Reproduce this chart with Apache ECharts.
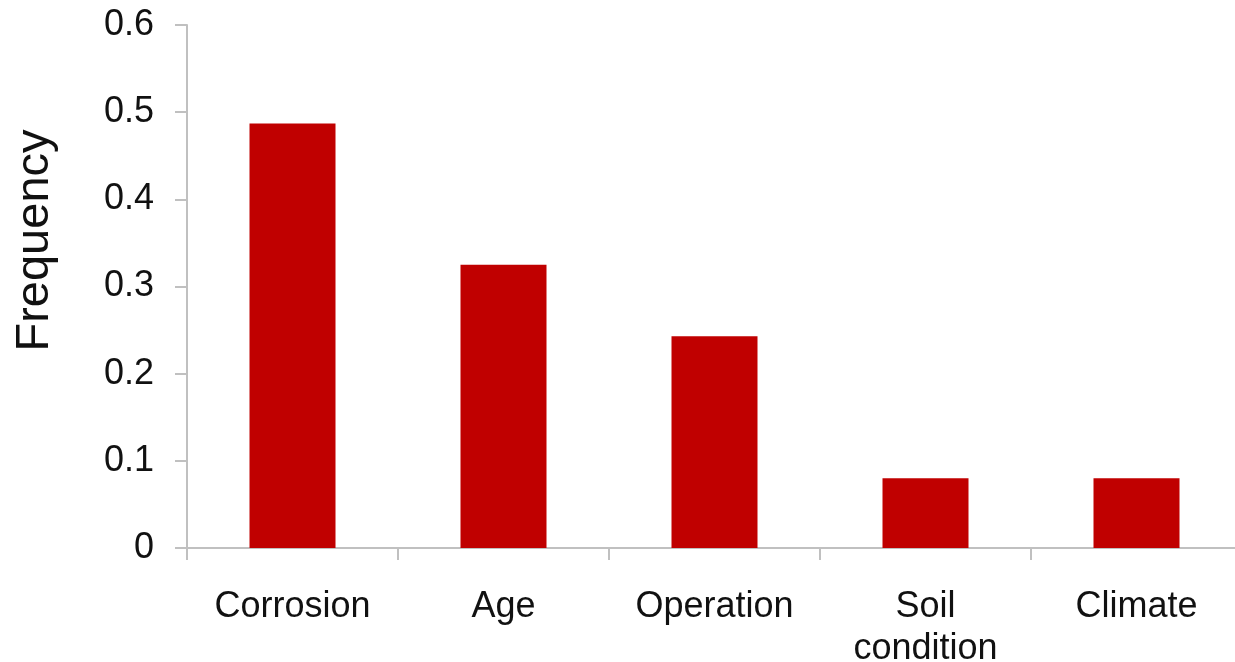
<!DOCTYPE html>
<html>
<head>
<meta charset="utf-8">
<script src="https://cdn.jsdelivr.net/npm/echarts@6/dist/echarts.min.js"></script>
<style>
  html, body { margin: 0; padding: 0; background: #fff; }
  #chart { width: 1235px; height: 662px; }
</style>
</head>
<body>
<div id="chart"></div>
<script>
// categories and values
const categories = ['Corrosion', 'Age', 'Operation', 'Soil\ncondition', 'Climate'];
const frequency = [0.487, 0.325, 0.243, 0.080, 0.080];

const axisGrey = '#c0c0c0';
const font = 'Liberation Sans, Arial, sans-serif';

const chart = echarts.init(document.getElementById('chart'), null, { renderer: 'canvas' });

const option = {
  animation: false,
  backgroundColor: '#fff',
  grid: {
    left: 187,
    right: -7,
    top: 25,
    bottom: 114,
    containLabel: false,
    outerBoundsMode: 'none'
  },
  xAxis: {
    type: 'category',
    data: categories,
    axisLine: { lineStyle: { color: axisGrey, width: 2 } },
    axisTick: { show: true, length: 12, lineStyle: { color: axisGrey, width: 2 } },
    axisLabel: {
      margin: 38,
      color: '#111',
      fontFamily: font,
      fontSize: 36,
      lineHeight: 42
    }
  },
  yAxis: {
    type: 'value',
    min: 0,
    max: 0.6,
    interval: 0.1,
    name: 'Frequency',
    nameLocation: 'middle',
    nameRotate: 90,
    nameGap: 128,
    nameTextStyle: {
      color: '#111',
      fontFamily: font,
      fontSize: 47,
      padding: [0, 0, 0, 92]
    },
    axisLine: { show: true, lineStyle: { color: axisGrey, width: 2 } },
    axisTick: { show: true, length: 12, lineStyle: { color: axisGrey, width: 2 } },
    splitLine: { show: false },
    axisLabel: {
      margin: 33,
      color: '#111',
      fontFamily: font,
      fontSize: 36,
      formatter: function (v) { return v === 0 ? '0' : v.toFixed(1); }
    }
  },
  series: [
    {
      type: 'bar',
      data: frequency,
      barWidth: 86,
      itemStyle: { color: '#c00000' }
    }
  ]
};

chart.setOption(option);
</script>
</body>
</html>
